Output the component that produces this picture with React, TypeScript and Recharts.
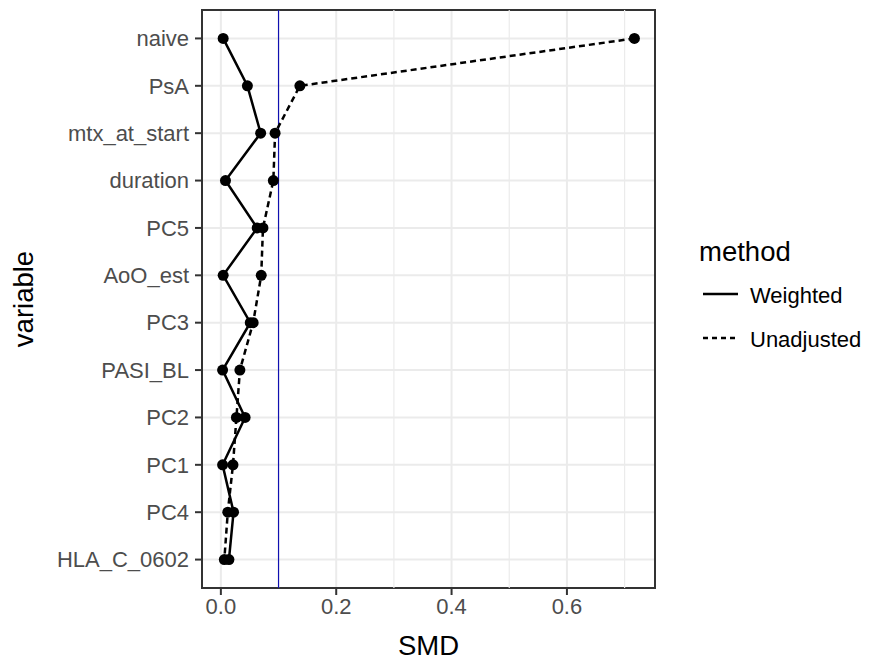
import {
  LineChart,
  Line,
  XAxis,
  YAxis,
  CartesianGrid,
  ReferenceLine,
  ReferenceArea,
  Label,
} from "recharts";

const variables = [
  "naive",
  "PsA",
  "mtx_at_start",
  "duration",
  "PC5",
  "AoO_est",
  "PC3",
  "PASI_BL",
  "PC2",
  "PC1",
  "PC4",
  "HLA_C_0602",
];

const weighted = [0.004, 0.046, 0.069, 0.008, 0.063, 0.004, 0.051, 0.003, 0.042, 0.003, 0.022, 0.014];
const unadjusted = [0.717, 0.137, 0.094, 0.091, 0.073, 0.07, 0.056, 0.033, 0.027, 0.021, 0.012, 0.006];

const majorTicks = [0, 0.2, 0.4, 0.6];
const minorTicks = [0.1, 0.3, 0.5, 0.7];
const threshold = 0.1;

const FONT = "'Liberation Sans', Arial, sans-serif";

const data = variables.map((name, i) => ({
  idx: i,
  name,
  weighted: weighted[i],
  unadjusted: unadjusted[i],
}));

// ggplot-style 5% expansion of the continuous axis
const all = [...weighted, ...unadjusted];
const lo = Math.min(...all);
const hi = Math.max(...all);
const pad = (hi - lo) * 0.05;
const xDomain: [number, number] = [lo - pad, hi + pad];
const yDomain: [number, number] = [-0.6, variables.length - 1 + 0.6];

const Legend = () => (
  <svg
    width={871}
    height={664}
    style={{ position: "absolute", left: 0, top: 0, pointerEvents: "none" }}
  >
    <text x={699} y={261} fontSize={27.5} fontFamily={FONT} fill="#000">
      method
    </text>
    <line x1={703} x2={738} y1={294} y2={294} stroke="#000" strokeWidth={2.3} />
    <text x={750} y={295} dy="0.35em" fontSize={22} fontFamily={FONT} fill="#000">
      Weighted
    </text>
    <line
      x1={703}
      x2={738}
      y1={338}
      y2={338}
      stroke="#000"
      strokeWidth={2.3}
      strokeDasharray="5 4"
    />
    <text x={750} y={339} dy="0.35em" fontSize={22} fontFamily={FONT} fill="#000">
      Unadjusted
    </text>
  </svg>
);

export default function App() {
  return (
    <div
      style={{
        position: "absolute",
        left: 0,
        top: 0,
        width: 871,
        height: 664,
        background: "#fff",
        fontFamily: FONT,
      }}
    >
      <LineChart
        width={871}
        height={664}
        data={data}
        layout="vertical"
        margin={{ top: 10, right: 216, left: 0, bottom: 0 }}
      >
        <CartesianGrid stroke="#EBEBEB" strokeWidth={2} />
        {minorTicks.map((t) => (
          <ReferenceLine key={t} x={t} stroke="#EBEBEB" strokeWidth={1.2} />
        ))}
        <XAxis
          type="number"
          dataKey="weighted"
          domain={xDomain}
          ticks={majorTicks}
          tickFormatter={(v: number) => v.toFixed(1)}
          allowDataOverflow
          axisLine={false}
          tickSize={7}
          tickMargin={3}
          tickLine={{ stroke: "#333333", strokeWidth: 2 }}
          tick={{ fill: "#4D4D4D", fontSize: 22, fontFamily: FONT }}
          height={76}
        >
          <Label
            value="SMD"
            position="insideBottom"
            offset={9}
            style={{ fontSize: 27.5, fill: "#000", fontFamily: FONT }}
          />
        </XAxis>
        <YAxis
          type="number"
          dataKey="idx"
          domain={yDomain}
          ticks={variables.map((_, i) => i)}
          interval={0}
          tickFormatter={(i: number) => variables[i] ?? ""}
          allowDataOverflow
          axisLine={false}
          tickSize={7}
          tickMargin={6}
          tickLine={{ stroke: "#333333", strokeWidth: 2 }}
          tick={{ fill: "#4D4D4D", fontSize: 22, fontFamily: FONT }}
          width={202}
        >
          <Label
            content={(props: any) => {
              const vb = props.viewBox || { x: 0, y: 0, height: 0 };
              const cy = vb.y + vb.height / 2;
              return (
                <text
                  x={33}
                  y={cy}
                  transform={`rotate(-90, 33, ${cy})`}
                  textAnchor="middle"
                  fontSize={27.5}
                  fontFamily={FONT}
                  fill="#000"
                >
                  variable
                </text>
              );
            }}
          />
        </YAxis>
        <ReferenceLine x={threshold} stroke="#1010B0" strokeWidth={1.2} />
        <ReferenceArea
          x1={xDomain[0]}
          x2={xDomain[1]}
          y1={yDomain[0]}
          y2={yDomain[1]}
          fill="none"
          stroke="#333333"
          strokeWidth={2}
        />
        <Line
          dataKey="weighted"
          type="linear"
          stroke="#000"
          strokeWidth={2.5}
          dot={{ r: 5.5, fill: "#000", stroke: "#000", strokeWidth: 0 }}
          isAnimationActive={false}
        />
        <Line
          dataKey="unadjusted"
          type="linear"
          stroke="#000"
          strokeWidth={2.5}
          strokeDasharray="6 4"
          dot={{ r: 5.5, fill: "#000", stroke: "#000", strokeWidth: 0, strokeDasharray: "0" }}
          isAnimationActive={false}
        />
      </LineChart>
      <Legend />
    </div>
  );
}
